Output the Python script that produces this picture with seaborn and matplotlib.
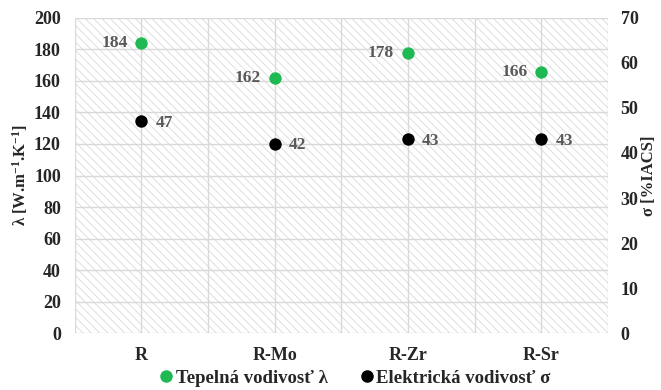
import matplotlib
matplotlib.use("Agg")
import matplotlib.pyplot as plt
import seaborn as sns
import pandas as pd
from matplotlib.patches import Rectangle
from matplotlib.lines import Line2D

# Data
categories = ["R", "R-Mo", "R-Zr", "R-Sr"]
thermal = [184, 162, 178, 166]       # λ [W.m-1.K-1]
electrical = [47, 42, 43, 43]        # σ [%IACS]
left_ticks = list(range(0, 201, 20))
right_ticks = list(range(0, 71, 10))

df = pd.DataFrame({"cat": categories, "thermal": thermal, "electrical": electrical})

sns.set_theme(style="white")
plt.rcParams["font.family"] = ["Liberation Serif", "DejaVu Serif"]
plt.rcParams["font.weight"] = "bold"
plt.rcParams["mathtext.fontset"] = "custom"
plt.rcParams["mathtext.rm"] = "Liberation Serif:bold"
plt.rcParams["mathtext.bf"] = "Liberation Serif:bold"
plt.rcParams["mathtext.default"] = "bf"
plt.rcParams["hatch.linewidth"] = 0.6
plt.rcParams["hatch.color"] = "#d9d9d9"

GREEN = "#1fb954"
BLACK = "#000000"
LABEL_GRAY = "#595959"

fig = plt.figure(figsize=(6.61, 3.90), dpi=100)
ax = fig.add_axes([0.113, 0.146, 0.807, 0.808])
ax2 = ax.twinx()

# hatched plot background
ax.add_patch(Rectangle((0, 0), 1, 1, transform=ax.transAxes, facecolor="white",
                       edgecolor="#d9d9d9", hatch="\\\\\\\\", linewidth=0, zorder=0))

sns.scatterplot(data=df, x="cat", y="thermal", ax=ax, color=GREEN, s=80,
                edgecolor=GREEN, linewidth=0, zorder=5)
sns.scatterplot(data=df, x="cat", y="electrical", ax=ax2, color=BLACK, s=80,
                edgecolor=BLACK, linewidth=0, zorder=5)

ax.set_xlim(-0.5, 3.5)
ax.set_ylim(0, 200)
ax2.set_ylim(0, 70)
ax.set_yticks(left_ticks)
ax2.set_yticks(right_ticks)
ax.set_xticks(range(len(categories)))
ax.set_xticklabels(categories)

# gridlines: horizontal every 20, vertical at category centres and boundaries
for yv in left_ticks:
    ax.axhline(yv, color="#d9d9d9", lw=1.0, zorder=1)
for xv in [i * 0.5 - 0.5 for i in range(9)]:
    ax.axvline(xv, color="#d9d9d9", lw=1.0, zorder=1)

for a in (ax, ax2):
    for sp in a.spines.values():
        sp.set_visible(False)
    a.tick_params(length=0, labelsize=13)
    a.grid(False)
ax.tick_params(axis="x", pad=10)
ax.tick_params(axis="y", pad=10)
ax2.tick_params(axis="y", pad=9)

for lbl in ax.get_xticklabels() + ax.get_yticklabels() + ax2.get_yticklabels():
    lbl.set_fontweight("bold")

ax.set_xlabel("")
ax.set_ylabel(r"λ [W.m$^{-1}$.K$^{-1}$]", fontsize=12, fontweight="bold", labelpad=3)
ax2.set_ylabel("σ [%IACS]", fontsize=12, fontweight="bold", rotation=90, labelpad=2)

# value labels
for i, v in enumerate(thermal):
    ax.annotate(str(v), (i, v), xytext=(-10, 0), textcoords="offset points",
                ha="right", va="center", color=LABEL_GRAY, fontsize=12.5,
                fontweight="bold", zorder=6)
for i, v in enumerate(electrical):
    ax2.annotate(str(v), (i, v), xytext=(10, -1), textcoords="offset points",
                 ha="left", va="center", color=LABEL_GRAY, fontsize=12.5,
                 fontweight="bold", zorder=6)

handles = [
    Line2D([], [], marker="o", ls="", color=GREEN, markersize=8),
    Line2D([], [], marker="o", ls="", color=BLACK, markersize=8),
]
fig.legend(handles, ["Tepelná vodivosť λ", "Elektrická vodivosť σ"],
           loc="lower center", bbox_to_anchor=(0.535, -0.035), ncol=2, frameon=False,
           prop={"weight": "bold", "size": 13.5}, handletextpad=0.0,
           columnspacing=1.6, handlelength=1.0)

fig.savefig("out.png", dpi=100)
